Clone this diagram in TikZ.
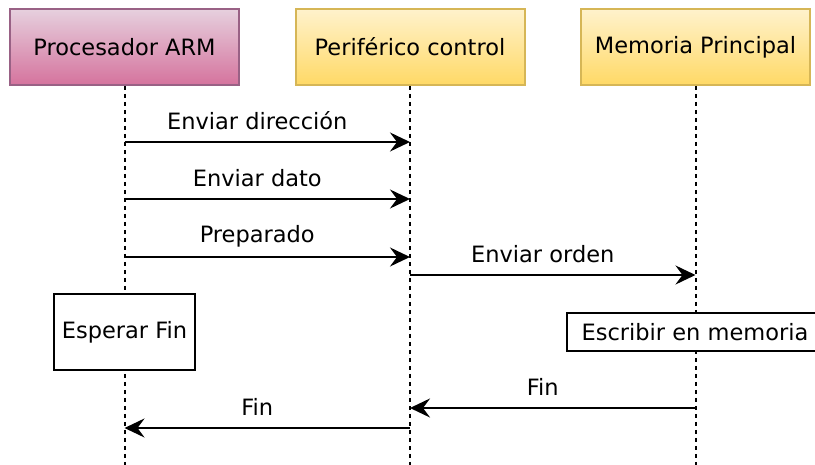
\documentclass[tikz,border=0pt]{standalone}
\usepackage{fontspec}
\setmainfont{DejaVu Sans}
\usetikzlibrary{arrows.meta}
\definecolor{pinkTop}{HTML}{E6D0DE}
\definecolor{pinkBot}{HTML}{D5739D}
\definecolor{pinkLine}{HTML}{996185}
\definecolor{yelTop}{HTML}{FFF2CC}
\definecolor{yelBot}{HTML}{FFD966}
\definecolor{yelLine}{HTML}{D6B656}
\tikzset{
  txt/.style={font=\fontsize{22.5}{26}\selectfont},
  head/.style={txt, draw, line width=2pt, minimum width=229pt, minimum height=76pt, inner sep=0pt},
  pinkhead/.style={head, draw=pinkLine, top color=pinkTop, bottom color=pinkBot},
  yelhead/.style={head, draw=yelLine, top color=yelTop, bottom color=yelBot},
  life/.style={line width=2pt, dash pattern=on 4pt off 4pt},
  msg/.style={line width=2pt, -{Stealth[length=20pt,width=19pt,inset=7pt]}},
  lbl/.style={txt, xshift=-10pt, yshift=21pt, inner sep=0pt},
  actbox/.style={txt, draw, fill=white, line width=2pt, inner sep=0pt},
}
\begin{document}
\begin{tikzpicture}[x=1pt,y=-1pt]
\useasboundingbox (0,0) rectangle (815,465);
\clip (0,0) rectangle (815,465);
% participants and lifelines
\node[pinkhead] (p) at (124.5,47) {Procesador ARM};
\node[yelhead] (c) at (410,47) {Periférico control};
\node[yelhead] (m) at (695.5,47) {Memoria Principal};
\coordinate (pe) at (124.5,466);
\coordinate (ce) at (410,466);
\coordinate (me) at (695.5,466);
\draw[life] (p.south) -- (pe);
\draw[life] (c.south) -- (ce);
\draw[life] (m.south) -- (me);
% message end points
\coordinate (p1) at (124.5,142); \coordinate (c1) at (410,142);
\coordinate (p2) at (124.5,199); \coordinate (c2) at (410,199);
\coordinate (p3) at (124.5,257); \coordinate (c3) at (410,257);
\coordinate (c4) at (410,275);   \coordinate (m4) at (695.5,275);
\coordinate (m5) at (695.5,408); \coordinate (c5) at (410,408);
\coordinate (c6) at (410,428);   \coordinate (p6) at (124.5,428);
\draw[msg] (p1) -- node[lbl] (l1) {Enviar dirección} (c1);
\draw[msg] (p2) -- node[lbl] (l2) {Enviar dato} (c2);
\draw[msg] (p3) -- node[lbl] (l3) {Preparado} (c3);
\draw[msg] (c4) -- node[lbl] (l4) {Enviar orden} (m4);
\draw[msg] (m5) -- node[lbl] (l5) {Fin} (c5);
\draw[msg] (c6) -- node[lbl] (l6) {Fin} (p6);
% activity boxes
\node[actbox, minimum width=141pt, minimum height=76pt] (wait) at (124.5,332) {Esperar Fin};
\node[actbox, minimum width=256pt, minimum height=38pt] (write) at (695,332) {Escribir en memoria};
\end{tikzpicture}
\end{document}
